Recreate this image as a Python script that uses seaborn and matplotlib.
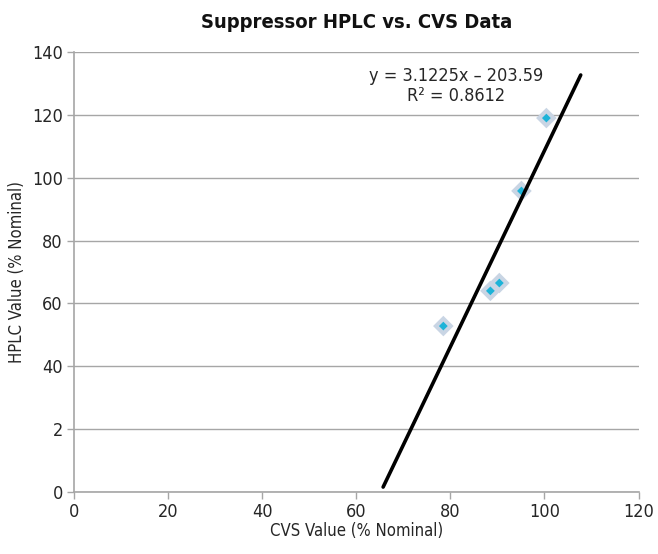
import matplotlib
matplotlib.use("Agg")
import matplotlib.pyplot as plt
import seaborn as sns
import numpy as np
import pandas as pd

# CVS vs HPLC measurements (% nominal)
cvs_values = [78.5, 88.5, 90.4, 95.1, 100.4]
hplc_values = [52.8, 64.0, 66.5, 95.8, 119.0]

# linear trendline reported on the chart
slope = 3.1225
intercept = -203.59
r_squared = 0.8612
trend_x = [65.7, 107.7]

x_ticks = [0, 20, 40, 60, 80, 100, 120]
y_ticks = [0, 20, 40, 60, 80, 100, 120, 140]
y_tick_labels = ["0", "2", "40", "60", "80", "100", "120", "140"]

sns.set_theme(style="white")
plt.rcParams["font.family"] = ["DejaVu Sans"]
plt.rcParams["font.stretch"] = "condensed"

df = pd.DataFrame({"cvs": cvs_values, "hplc": hplc_values})

fig = plt.figure(figsize=(6.58, 5.54), dpi=100)
ax = fig.add_axes([0.1125, 0.112, 0.858, 0.794])

# horizontal gridlines
for yv in y_ticks:
    ax.axhline(yv, color="#a6a6a6", lw=1.0, zorder=0)

# diamond markers: pale halo with a cyan core
sns.scatterplot(data=df, x="cvs", y="hplc", marker="D", s=110,
                color="#c9d5e4", edgecolor="none", ax=ax, zorder=3)
sns.scatterplot(data=df, x="cvs", y="hplc", marker="D", s=20,
                color="#1cb3d8", edgecolor="none", ax=ax, zorder=4)

tx = np.array(trend_x)
sns.lineplot(x=tx, y=slope * tx + intercept, color="black", lw=2.6, ax=ax, zorder=5)

ax.text(81.3, 129.3, f"y = {slope}x \u2013 {abs(intercept)}\nR\u00b2 = {r_squared}",
        ha="center", va="center", fontsize=13, linespacing=1.15, color="#262626")

ax.set_xlim(0, 120)
ax.set_ylim(0, 140)
ax.set_xticks(x_ticks)
ax.set_xticklabels([str(v) for v in x_ticks])
ax.set_yticks(y_ticks)
ax.set_yticklabels(y_tick_labels)
ax.tick_params(axis="both", which="major", direction="out", length=5, width=1,
               color="#a6a6a6", labelsize=13, labelcolor="#262626", pad=3,
               left=True, bottom=True)

for side in ["top", "right"]:
    ax.spines[side].set_visible(False)
for side in ["left", "bottom"]:
    ax.spines[side].set_color("#a6a6a6")
    ax.spines[side].set_linewidth(1.2)

ax.set_xlabel("CVS Value (% Nominal)", fontsize=12, color="#262626", labelpad=1)
ax.set_ylabel("HPLC Value (% Nominal)", fontsize=12, color="#262626", labelpad=4)
ax.set_title("Suppressor HPLC vs. CVS Data", fontsize=14.5, fontweight="bold",
             color="#111111", pad=17)

fig.savefig("out.png", dpi=100)
